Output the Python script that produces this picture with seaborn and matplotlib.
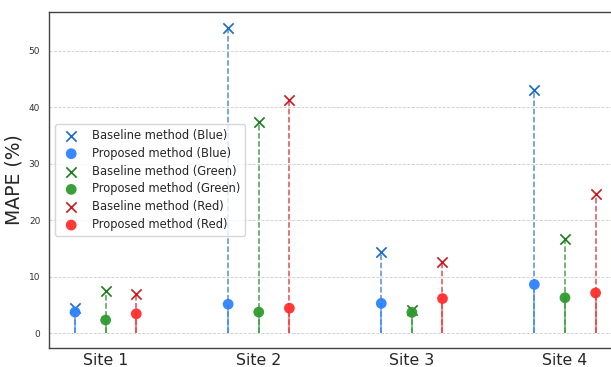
import numpy as np
import pandas as pd
import matplotlib
matplotlib.use("Agg")
import matplotlib.pyplot as plt
import seaborn as sns

sites = ["Site 1", "Site 2", "Site 3", "Site 4"]
channels = ["Blue", "Green", "Red"]
baseline_blue = [4.4, 54.0, 14.4, 43.0]
proposed_blue = [3.7, 5.1, 5.25, 8.6]
baseline_green = [7.5, 37.4, 4.0, 16.6]
proposed_green = [2.3, 3.7, 3.65, 6.25]
baseline_red = [6.85, 41.2, 12.6, 24.6]
proposed_red = [3.4, 4.4, 6.1, 7.1]

baseline_colors = {"Blue": "#1a6ac8", "Green": "#1b7d1b", "Red": "#c81a1f"}
proposed_colors = {"Blue": "#2f82ff", "Green": "#2e9a2e", "Red": "#ff2e2e"}
offsets = {"Blue": -0.2, "Green": 0.0, "Red": 0.2}

base = {"Blue": baseline_blue, "Green": baseline_green, "Red": baseline_red}
prop = {"Blue": proposed_blue, "Green": proposed_green, "Red": proposed_red}

sns.set_style("white")
plt.rcParams["font.family"] = ["DejaVu Sans"]

fig = plt.figure(figsize=(6.11, 3.67), dpi=100)
ax = fig.add_axes([0.0807, 0.0526, 0.9367, 0.9139])

for ch in channels:
    xs = np.arange(len(sites)) + offsets[ch]
    df = pd.DataFrame({"x": xs, "base": base[ch], "prop": prop[ch]})
    ax.vlines(df["x"], 0, df["base"], colors=baseline_colors[ch], linestyles="--",
              linewidth=1.1, alpha=0.75, zorder=2)
    ax.vlines(df["x"], 0, df["prop"], colors=proposed_colors[ch], linestyles="-",
              linewidth=1.1, alpha=0.75, zorder=2)

for ch in channels:
    xs = np.arange(len(sites)) + offsets[ch]
    df = pd.DataFrame({"x": xs, "base": base[ch], "prop": prop[ch]})
    sns.scatterplot(data=df, x="x", y="base", marker="x", s=55, color=baseline_colors[ch],
                    linewidth=1.2, ax=ax, zorder=4, label=f"Baseline method ({ch})")
    sns.scatterplot(data=df, x="x", y="prop", marker="o", s=60, color=proposed_colors[ch],
                    edgecolor="none", alpha=0.95, ax=ax, zorder=5, label=f"Proposed method ({ch})")

ax.set_xlim(-0.368, 3.37)
ax.set_ylim(-2.6, 56.8)
ax.set_xticks(np.arange(len(sites)))
ax.set_xticklabels(sites, fontsize=11.3)
ax.set_yticks([0, 10, 20, 30, 40, 50])
ax.tick_params(axis="y", labelsize=6.5, length=3, color="#555555", labelcolor="#333333")
ax.tick_params(axis="x", length=3, color="#555555", pad=1)
ax.set_xlabel("")
ax.set_ylabel("MAPE (%)", fontsize=13.5)
ax.yaxis.grid(True, linestyle="--", linewidth=0.6, color="#cccccc")
ax.xaxis.grid(False)
for sp in ax.spines.values():
    sp.set_color("#444444")
    sp.set_linewidth(1.0)

ax.legend(loc="center left", fontsize=8.3, frameon=True, borderaxespad=0.5,
          labelspacing=0.42)

fig.savefig("out.png", dpi=100)
